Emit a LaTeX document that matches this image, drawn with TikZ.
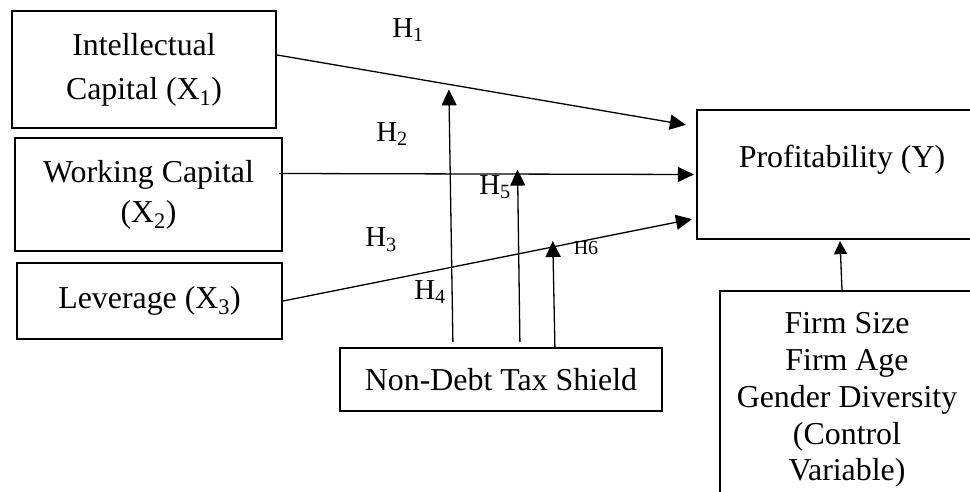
\documentclass[tikz,border=0pt]{standalone}
\usepackage{fontspec}
\setmainfont{Liberation Serif}
\usetikzlibrary{positioning, arrows.meta}

\begin{document}
\begin{tikzpicture}[x=1bp, y=-1bp, >={Triangle[length=16bp, width=15bp]},
                    var/.style={draw, line width=2.2bp, align=center, inner sep=0pt,
                                font=\fontsize{32}{37}\selectfont},
                    hyp/.style={inner sep=0pt, font=\fontsize{29}{32}\selectfont},
                    link/.style={->, line width=1.3bp}]
                
                \clip (0,0) rectangle (970,492);
                
                % Variables independientes a la izquierda
                \node[var, minimum width=264bp, minimum height=117bp] (IC) at (144,69.5)
                    {Intellectual\\[7bp]Capital (X\textsubscript{1})};
                \node[var, minimum width=267bp, minimum height=113bp] (WC) at (148.5,194.5)
                    {Working Capital\\[3bp](X\textsubscript{2})};
                \node[var, minimum width=265bp, minimum height=76bp] (LEV) at (149.5,301)
                    {Leverage (X\textsubscript{3})};
                
                % Variable dependiente, moderadora y de control
                \node[var, minimum width=290bp, minimum height=129bp] (PROF) at (842,174.5)
                    {Profitability (Y)\\ \mbox{}};
                \node[var, minimum width=322bp, minimum height=63bp] (NDTS) at (501,379.5)
                    {Non-Debt Tax Shield};
                \node[var, minimum width=254bp, minimum height=218bp] (CTRL) at (847,400)
                    {Firm Size\\Firm Age\\Gender Diversity\\(Control\\Variable)};
                
                % Efectos directos H1--H3
                \draw[link] ([yshift=14.5bp]IC.east) -- coordinate[pos=0.42] (h1m)
                    ([xshift=-10bp, yshift=-16bp]PROF.north west);
                \draw[link] ([xshift=-4bp, yshift=21bp]WC.east) -- coordinate[pos=0.575] (h2m)
                    ([xshift=-2bp]PROF.west);
                \draw[link] (LEV.east) -- coordinate[pos=0.66] (h3m)
                    ([xshift=-4bp, yshift=21bp]PROF.south west);
                
                % Efectos moderadores H4--H6
                \draw[link, shorten >=5bp] ([xshift=114bp, yshift=5bp]NDTS.north west) -- (h1m);
                \draw[link, shorten >=-4.5bp] ([xshift=181bp, yshift=5bp]NDTS.north west) -- (h2m);
                \draw[link, shorten >=-6bp] ([xshift=216bp]NDTS.north west) -- (h3m);
                
                % Variables de control
                \draw[link, >={Triangle[length=13bp, width=13bp]}] ([xshift=-5bp]CTRL.north)
                    -- ([xshift=-2bp, yshift=-1bp]PROF.south);
                
                % Etiquetas de hipótesis
                \node[hyp] (H1) at (408,30) {H\textsubscript{1}};
                \node[hyp] (H2) at (392,134) {H\textsubscript{2}};
                \node[hyp] (H3) at (381,240) {H\textsubscript{3}};
                \node[hyp] (H4) at (430,292) {H\textsubscript{4}};
                \node[hyp] (H5) at (495,187) {H\textsubscript{5}};
                \node[hyp, font=\fontsize{20}{24}\selectfont] (H6) at (586,248) {H6};
            \end{tikzpicture}
\end{document}
